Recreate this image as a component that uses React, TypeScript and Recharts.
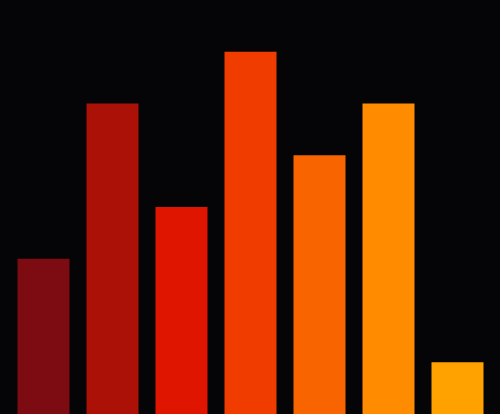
import { Bar, BarChart, Cell, XAxis, YAxis } from "recharts";

const categories = ["A", "B", "C", "D", "E", "F", "G"];
const values = [3, 6, 4, 7, 5, 6, 1];
const colors = ["#7c0c11", "#ab1106", "#e01500", "#f13c00", "#f86400", "#fe8b00", "#ffa200"];

const data = categories.map((name, i) => ({ name, value: values[i] }));

const App = () => {
  return (
    <div style={{ position: "fixed", left: 0, top: 0, width: 500, height: 414, background: "#050507" }}>
      <BarChart
        width={500}
        height={414}
        data={data}
        margin={{ top: 0, right: 8.5, left: 8.5, bottom: 0 }}
        barSize={52}
      >
        <XAxis dataKey="name" hide />
        <YAxis type="number" domain={[0, 8]} hide />
        <Bar dataKey="value" isAnimationActive={false}>
          {data.map((d, i) => (
            <Cell key={d.name} fill={colors[i]} />
          ))}
        </Bar>
      </BarChart>
    </div>
  );
};

export default App;
